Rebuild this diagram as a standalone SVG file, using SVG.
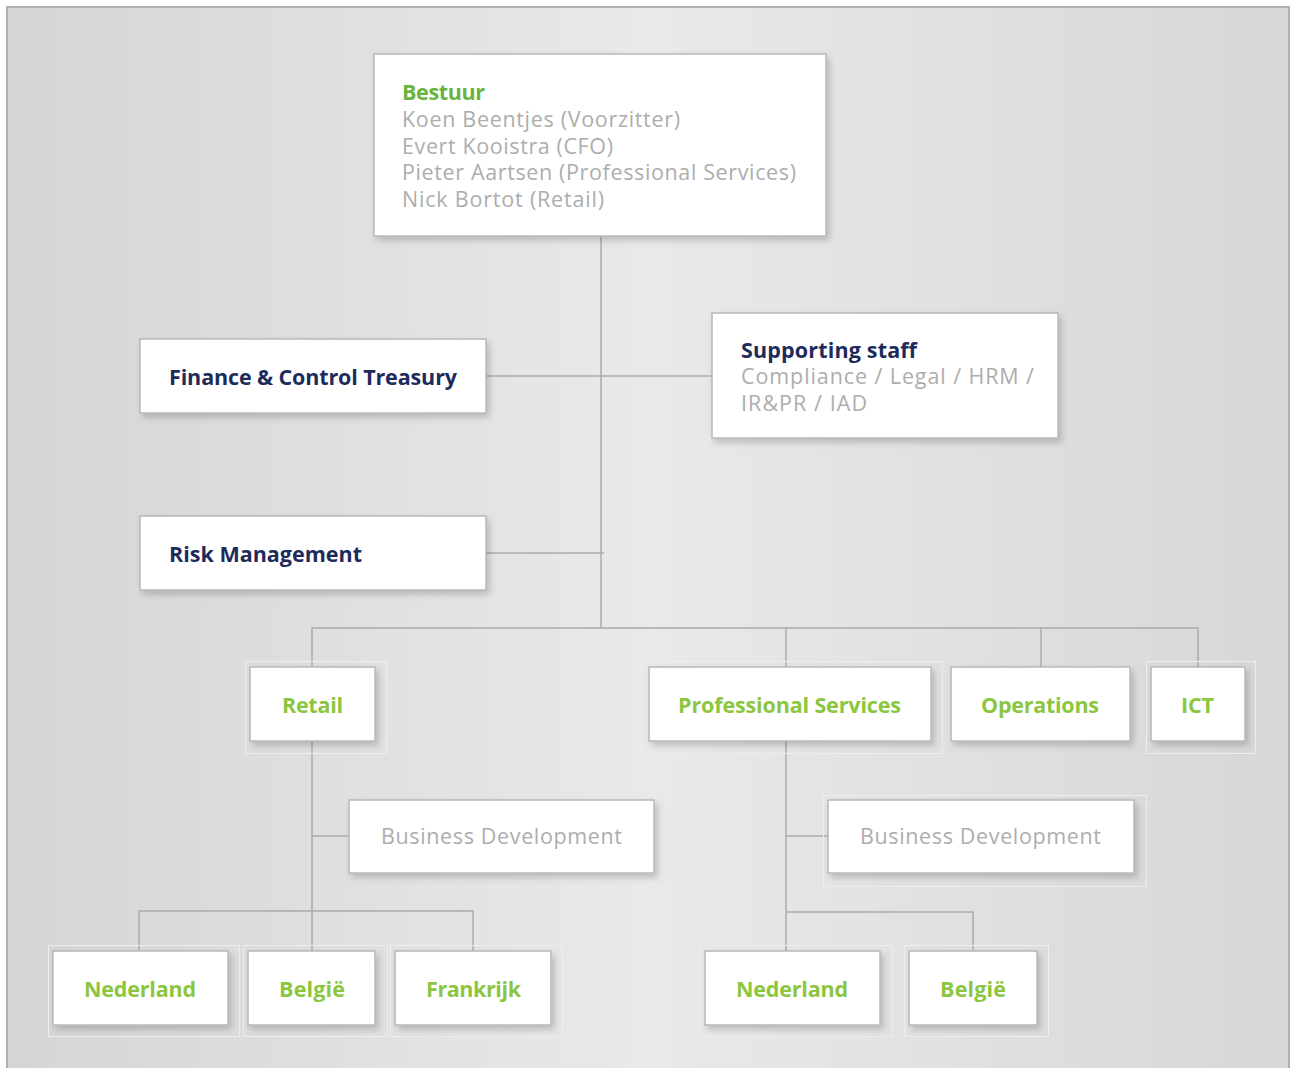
<svg xmlns="http://www.w3.org/2000/svg" width="1291" height="1068" viewBox="0 0 1291 1068">
  <defs>
    <linearGradient id="bg" x1="0" y1="0" x2="1" y2="0">
      <stop offset="0" stop-color="#d5d5d5"/>
      <stop offset="0.5" stop-color="#e8e9e9"/>
      <stop offset="1" stop-color="#d7d7d7"/>
    </linearGradient>
    <filter id="sh" x="-10%" y="-10%" width="125%" height="135%">
      <feDropShadow dx="3" dy="4" stdDeviation="3" flood-color="#000" flood-opacity="0.18"/>
    </filter>
  </defs>
  <style>
    .box { fill: #ffffff; stroke: #b8b8b8; stroke-width: 1.5; filter: url(#sh); }
    .halo { fill: none; stroke: #ededed; stroke-width: 1; }
    .con { fill: none; stroke: #ababab; stroke-width: 1.5; }
    .t { font-family: "Open Sans", "Noto Sans", "Liberation Sans", sans-serif; font-size: 21.5px; }
    .green { fill: #8cc63f; font-weight: 700; }
    .dgreen { fill: #6ab33f; font-weight: 700; }
    .navy { fill: #1d2b5b; font-weight: 700; }
    .gray { fill: #adadad; }
    .mid { text-anchor: middle; }
  </style>
  <rect x="7" y="7" width="1282" height="1100" fill="url(#bg)" stroke="#b0b0b0" stroke-width="2"/>

  <g id="connectors">
    <path class="con" d="M601 236 V628"/>
    <path class="con" d="M486 376 H712"/>
    <path class="con" d="M486 553 H604"/>
    <path class="con" d="M312 667 V628 H1198 V667"/>
    <path class="con" d="M786 628 V667"/>
    <path class="con" d="M1041 628 V667"/>
    <path class="con" d="M312 741 V951"/>
    <path class="con" d="M312 836 H349"/>
    <path class="con" d="M139 951 V911 H473 V951"/>
    <path class="con" d="M786 741 V951"/>
    <path class="con" d="M786 836 H828"/>
    <path class="con" d="M786 912 H973 V951"/>
  </g>

  <g id="bestuur">
    <rect class="box" x="374" y="54" width="452" height="182"/>
    <text class="t dgreen" x="402" y="100" textLength="83">Bestuur</text>
    <text class="t gray" x="402" y="127" textLength="278">Koen Beentjes (Voorzitter)</text>
    <text class="t gray" x="402" y="154" textLength="211">Evert Kooistra (CFO)</text>
    <text class="t gray" x="402" y="180" textLength="394">Pieter Aartsen (Professional Services)</text>
    <text class="t gray" x="402" y="207" textLength="202">Nick Bortot (Retail)</text>
  </g>

  <g id="finance">
    <rect class="box" x="140" y="339" width="346" height="74"/>
    <text class="t navy" x="169" y="385" textLength="288">Finance &amp; Control Treasury</text>
  </g>

  <g id="supporting">
    <rect class="box" x="712" y="313" width="346" height="125"/>
    <text class="t navy" x="741" y="358" textLength="176">Supporting staff</text>
    <text class="t gray" x="741" y="384" textLength="293">Compliance / Legal / HRM /</text>
    <text class="t gray" x="741" y="411" textLength="126">IR&amp;PR / IAD</text>
  </g>

  <g id="risk">
    <rect class="box" x="140" y="516" width="346" height="74"/>
    <text class="t navy" x="169" y="562" textLength="193">Risk Management</text>
  </g>

  <g id="retail">
    <rect class="halo" x="245.5" y="661.5" width="141" height="92"/>
    <rect class="box" x="250" y="667" width="125" height="74"/>
    <text class="t green mid" x="312.5" y="713" textLength="61">Retail</text>
  </g>

  <g id="professional-services">
    <rect class="halo" x="640.5" y="661.5" width="302" height="92"/>
    <rect class="box" x="649" y="667" width="282" height="74"/>
    <text class="t green mid" x="789.5" y="713" textLength="223">Professional Services</text>
  </g>

  <g id="operations">
    <rect class="box" x="951" y="667" width="179" height="74"/>
    <text class="t green mid" x="1040" y="713" textLength="118">Operations</text>
  </g>

  <g id="ict">
    <rect class="halo" x="1146.5" y="661.5" width="109" height="92"/>
    <rect class="box" x="1151" y="667" width="94" height="74"/>
    <text class="t green mid" x="1197.5" y="713" textLength="33">ICT</text>
  </g>

  <g id="retail-bd">
    <rect class="box" x="349" y="800" width="305" height="73"/>
    <text class="t gray mid" x="501.5" y="844" textLength="241">Business Development</text>
  </g>

  <g id="ps-bd">
    <rect class="halo" x="823.5" y="795.5" width="323" height="91"/>
    <rect class="box" x="828" y="800" width="306" height="73"/>
    <text class="t gray mid" x="980.5" y="844" textLength="241">Business Development</text>
  </g>

  <g id="retail-nederland">
    <rect class="halo" x="48.5" y="945.5" width="191" height="91"/>
    <rect class="box" x="53" y="951" width="175" height="74"/>
    <text class="t green mid" x="140" y="997" textLength="112">Nederland</text>
  </g>

  <g id="retail-belgie">
    <rect class="halo" x="243.5" y="945.5" width="144" height="91"/>
    <rect class="box" x="248" y="951" width="127" height="74"/>
    <text class="t green mid" x="312" y="997" textLength="66">België</text>
  </g>

  <g id="retail-frankrijk">
    <rect class="halo" x="390.5" y="945.5" width="172" height="91"/>
    <rect class="box" x="395" y="951" width="156" height="74"/>
    <text class="t green mid" x="473.5" y="997" textLength="95">Frankrijk</text>
  </g>

  <g id="ps-nederland">
    <rect class="halo" x="700.5" y="945.5" width="192" height="91"/>
    <rect class="box" x="705" y="951" width="175" height="74"/>
    <text class="t green mid" x="792" y="997" textLength="112">Nederland</text>
  </g>

  <g id="ps-belgie">
    <rect class="halo" x="904.5" y="945.5" width="144" height="91"/>
    <rect class="box" x="909" y="951" width="128" height="74"/>
    <text class="t green mid" x="973" y="997" textLength="66">België</text>
  </g>
</svg>
